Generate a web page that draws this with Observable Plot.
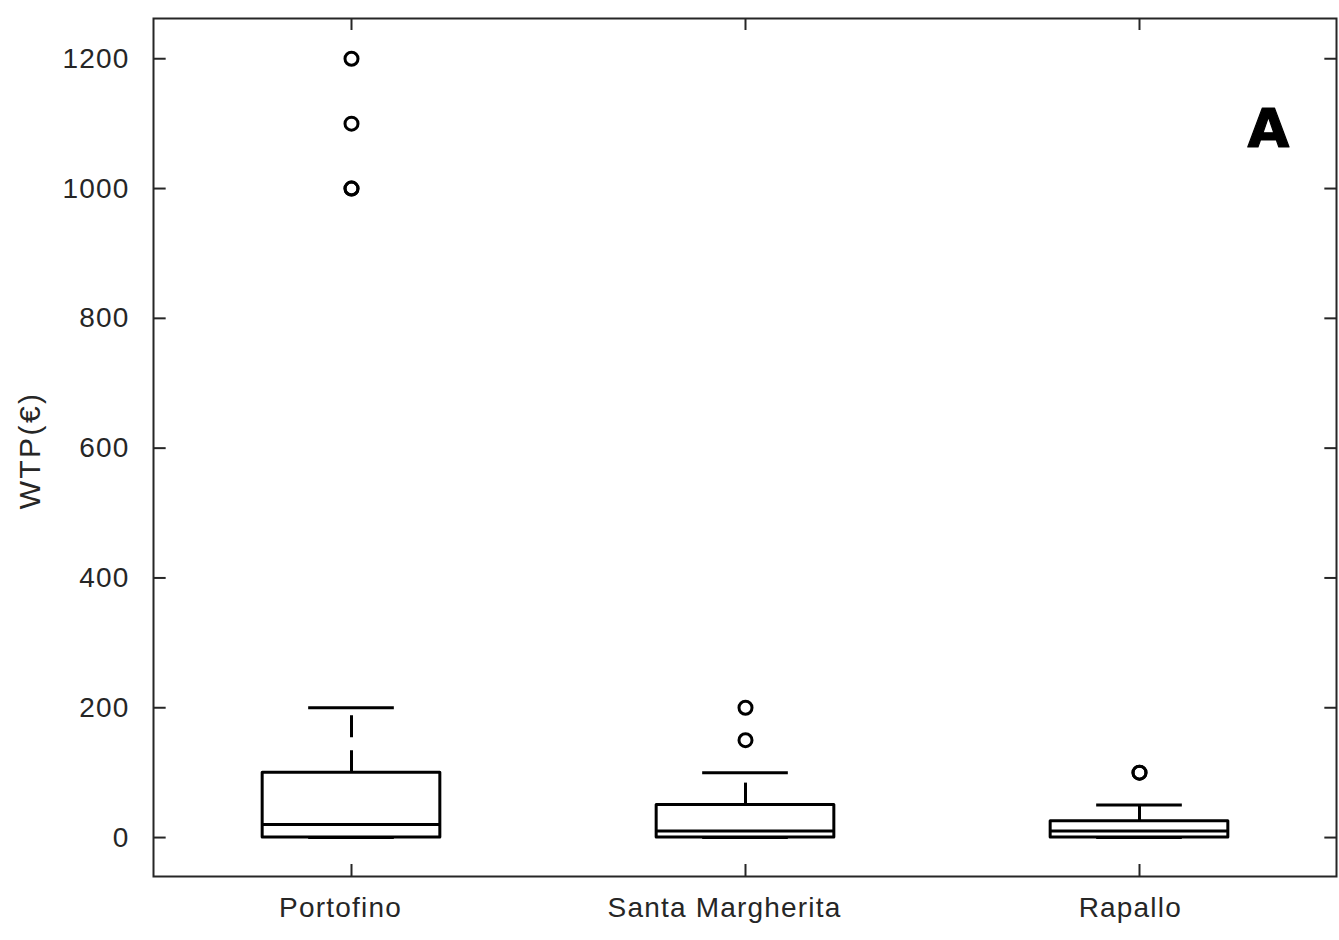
<!DOCTYPE html>
<html><head><meta charset="utf-8">
<script src="https://cdn.jsdelivr.net/npm/d3@7"></script>
<script src="https://cdn.jsdelivr.net/npm/@observablehq/plot@0.6"></script>
<style>html,body{margin:0;padding:0;background:#fff} .ylab text, text.ylab, .ylab{letter-spacing:2.4px}</style>
</head><body><div id="chart"></div>
<script>
// ---- data ----
const categories = ["Portofino", "Santa Margherita", "Rapallo"];
const q1 = [0, 0, 0];
const median = [20, 10, 10];
const q3 = [100, 50, 25];
const lowWhisker = [0, 0, 0];
const highWhisker = [200, 100, 50];
const outliers = [[1000, 1000, 1100, 1200], [150, 200], [100, 100]];
const yTicks = [0, 200, 400, 600, 800, 1000, 1200];
const yDomain = [-60, 1262];
const yLabel = "WTP(€)";
const panelLetter = "A";

// ---- tables built from the arrays ----
const boxes = categories.map((c, i) => ({site: c, q1: q1[i], median: median[i], q3: q3[i], lo: lowWhisker[i], hi: highWhisker[i]}));
const outlierRows = categories.flatMap((c, i) => outliers[i].map(v => ({site: c, value: v})));

// ---- layout ----
const W = 1339, H = 940, mL = 153, mR = 3, mT = 18, mB = 64;
const bw = (W - mL - mR) / categories.length;
const plotH = H - mT - mB;
const boxW = 178, capW = 86, tk = 12;
const axisCol = "#262626";
const boxInset = (bw - boxW) / 2, capInset = (bw - capW) / 2;
const FONT = "'Liberation Sans', Arial, Helvetica, sans-serif";
const LS = 1.2;

// measure label widths to reproduce the reference's slight left shift of category labels
const ctx = document.createElement("canvas").getContext("2d");
ctx.font = "28px 'Liberation Sans', Arial, sans-serif";
const labelWidth = s => ctx.measureText(s).width + (s.length - 1) * LS;

const catLabelMarks = categories.map(c => Plot.text([c], {
  x: d => d, text: d => d, frameAnchor: "bottom", lineAnchor: "top", textAnchor: "middle",
  dy: 21, dx: -0.09 * labelWidth(c), fontSize: 28, fill: axisCol
}));

const chart = Plot.plot({
  width: W, height: H,
  marginLeft: mL, marginRight: mR, marginTop: mT, marginBottom: mB,
  style: {fontFamily: FONT, fontSize: "28px", color: axisCol, background: "#fff", overflow: "visible", letterSpacing: LS + "px"},
  x: {domain: categories, padding: 0, label: null, axis: null},
  y: {domain: yDomain, label: null, axis: null},
  marks: [
    Plot.frame({stroke: axisCol, strokeWidth: 2}),
    Plot.axisY({ticks: yTicks, tickSize: 0, tickPadding: 24, fontSize: 28, label: null, tickFormat: d => String(d)}),
    ...catLabelMarks,
    Plot.text([yLabel], {text: d => d, frameAnchor: "left", textAnchor: "middle", rotate: -90, dx: -123, dy: 3, fontSize: 30, fill: axisCol, className: "ylab"}),
    // inward ticks on all four sides
    Plot.tickY(yTicks, {y: d => d, x: () => categories[0], insetRight: bw - tk, stroke: axisCol, strokeWidth: 2}),
    Plot.tickY(yTicks, {y: d => d, x: () => categories[categories.length - 1], insetLeft: bw - tk, stroke: axisCol, strokeWidth: 2}),
    Plot.ruleX(categories, {x: d => d, insetTop: plotH - tk, stroke: axisCol, strokeWidth: 2}),
    Plot.ruleX(categories, {x: d => d, insetBottom: plotH - tk, stroke: axisCol, strokeWidth: 2}),
    // whiskers
    Plot.ruleX(boxes, {x: "site", y1: "q3", y2: "hi", stroke: "black", strokeWidth: 3, strokeDasharray: "22,13"}),
    Plot.tickY(boxes, {x: "site", y: "hi", insetLeft: capInset, insetRight: capInset, stroke: "black", strokeWidth: 3}),
    Plot.tickY(boxes, {x: "site", y: "lo", insetLeft: capInset, insetRight: capInset, stroke: "black", strokeWidth: 3}),
    // boxes
    Plot.barY(boxes, {x: "site", y1: "q1", y2: "q3", fill: "none", stroke: "black", strokeWidth: 3, strokeLinejoin: "round", insetLeft: boxInset, insetRight: boxInset}),
    Plot.tickY(boxes, {x: "site", y: "median", insetLeft: boxInset, insetRight: boxInset, stroke: "black", strokeWidth: 3}),
    // outliers
    Plot.dot(outlierRows, {x: "site", y: "value", r: 6.5, fill: "none", stroke: "black", strokeWidth: 3}),
    // panel letter
    Plot.text([panelLetter], {text: d => d, frameAnchor: "top-right", dx: -46, dy: 90, textAnchor: "end", lineAnchor: "top", fontSize: 54, fontWeight: 900, fontFamily: "'DejaVu Sans', sans-serif", fill: "black", stroke: "black", strokeWidth: 1.2})
  ]
});
document.getElementById("chart").appendChild(chart);
</script>
</body></html>
